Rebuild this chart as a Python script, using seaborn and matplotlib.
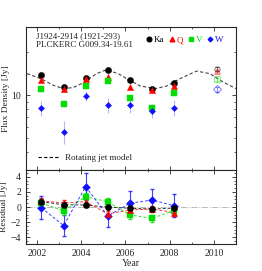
import numpy as np
import pandas as pd
import matplotlib
matplotlib.use("Agg")
import matplotlib.pyplot as plt
import matplotlib.ticker as mticker
import seaborn as sns

# WMAP epochs and Planck epoch
years = [2002.2, 2003.2, 2004.2, 2005.2, 2006.2, 2007.2, 2008.2]
planck_year = 2010.15

bands = ["Ka", "Q", "V", "W"]
colors = {"Ka": "black", "Q": "red", "V": "#00dd00", "W": "#1010ff"}
markers = {"Ka": "o", "Q": "^", "V": "s", "W": "D"}
sizes = {"Ka": 20, "Q": 20, "V": 15, "W": 10}

flux = {
    "Ka": [13.8, 11.4, 13.2, 14.9, 12.7, 11.1, 12.25],
    "Q": [12.7, 11.1, 12.9, 13.4, 11.4, 10.8, 11.6],
    "V": [11.0, 8.75, 11.6, 12.6, 9.6, 8.1, 10.3],
    "W": [8.1, 5.56, 9.84, 8.5, 8.5, 7.8, 8.2],
}
flux_err = {
    "Ka": [0.3, 0.3, 0.3, 0.3, 0.3, 0.3, 0.3],
    "Q": [0.4, 0.4, 0.4, 0.4, 0.4, 0.4, 0.4],
    "V": [0.5, 0.5, 0.5, 0.5, 0.5, 0.5, 0.5],
    "W": [1.0, 1.0, 0.8, 1.0, 1.0, 0.9, 1.0],
}
planck_flux = {"Ka": 15.3, "Q": 14.7, "V": 12.9, "W": 11.0}
planck_err = {"Ka": 0.5, "Q": 0.4, "V": 0.3, "W": 0.4}

resid = {
    "Ka": [0.7, 0.3, 0.26, 0.0, -0.17, -0.26, -0.15],
    "Q": [0.8, 0.55, 0.7, -0.9, -0.4, -0.26, -0.74],
    "V": [0.55, -0.5, 1.37, 0.7, -1.05, -1.5, -0.48],
    "W": [-0.1, -2.45, 2.7, -1.2, 0.5, 0.92, 0.18],
}
resid_err = {
    "Ka": [0.3] * 7,
    "Q": [0.4] * 7,
    "V": [0.5] * 7,
    "W": [1.5, 1.4, 1.75, 1.5, 1.6, 1.5, 1.5],
}

# rotating jet model curve
model_year = [2001.54, 2002.18, 2002.74, 2003.19, 2003.64, 2004.16, 2004.69, 2005.14,
              2005.67, 2006.19, 2006.67, 2007.35, 2007.87, 2008.47, 2009.22, 2009.82,
              2010.42, 2010.99]
model_flux = [14.15, 13.06, 11.73, 11.13, 11.31, 12.37, 14.15, 15.07, 14.15, 12.71,
              11.6, 11.13, 11.6, 13.06, 14.75, 14.15, 12.37, 11.13]

sns.set_style("ticks")
plt.rcParams["font.family"] = ["Liberation Serif", "DejaVu Serif"]
plt.rcParams["xtick.direction"] = "in"
plt.rcParams["ytick.direction"] = "in"
plt.rcParams["xtick.top"] = True
plt.rcParams["ytick.right"] = True
plt.rcParams["font.size"] = 7

fig = plt.figure(figsize=(2.62, 2.71), dpi=100)
ax = fig.add_axes([0.0992, 0.3727, 0.8015, 0.5277])
axr = fig.add_axes([0.0992, 0.0996, 0.8015, 0.273], sharex=ax)

model = pd.DataFrame({"year": model_year, "flux": model_flux})
sns.lineplot(data=model, x="year", y="flux", ax=ax, color="#444444", lw=0.8,
             linestyle=(0, (3, 2)), legend=False)

band_handles = []
for b in bands:
    c = colors[b]
    ax.errorbar(years, flux[b], yerr=flux_err[b], fmt="none", ecolor=c, alpha=0.3,
                elinewidth=0.8, capsize=0)
    sns.scatterplot(x=years, y=flux[b], ax=ax, color=c, marker=markers[b],
                    s=sizes[b], edgecolor=c, linewidth=0.3, zorder=3)
    ax.errorbar([planck_year], [planck_flux[b]], yerr=[planck_err[b]], fmt=markers[b],
                mfc="none", mec=c, ecolor=c, alpha=0.45, ms=3.8, mew=0.8,
                elinewidth=0.8, capsize=1.5)
    band_handles.append(plt.Line2D([], [], ls="none", marker=markers[b], color=c,
                                   ms=np.sqrt(sizes[b]) * 0.75))

ax.set_yscale("log")
ax.set_ylim(3, 30)
ax.set_xlim(2001.5, 2011)
ax.yaxis.set_major_locator(mticker.FixedLocator([10]))
ax.yaxis.set_major_formatter(mticker.FixedFormatter(["10"]))
ax.yaxis.set_minor_locator(mticker.LogLocator(base=10, subs=np.arange(2, 10)))
ax.yaxis.set_minor_formatter(mticker.NullFormatter())
ax.set_ylabel("Flux Density [Jy]", labelpad=1, fontsize=6.8)
ax.set_xlabel("")
plt.setp(ax.get_xticklabels(), visible=False)
ax.tick_params(which="both", labelsize=7)

ax.text(0.05, 0.965, "J1924-2914 (1921-293)\nPLCKERC G009.34-19.61",
        transform=ax.transAxes, fontsize=6.5, va="top", linespacing=1.1)

leg1 = ax.legend(handles=band_handles, labels=bands, loc="upper right", ncol=4,
                 frameon=False, handletextpad=0.05, columnspacing=0.35, handlelength=1.0,
                 fontsize=6.5, labelcolor=[colors[b] for b in bands],
                 bbox_to_anchor=(0.97, 0.98), borderpad=0.2)
ax.add_artist(leg1)
ax.legend(handles=[plt.Line2D([], [], color="black", lw=0.8, ls=(0, (3, 2)))],
          labels=["Rotating jet model"], loc="lower left", frameon=False,
          fontsize=6.5, handlelength=2.2, bbox_to_anchor=(0.02, 0.0))

# residual panel
axr.axhline(0, color="#bbbbbb", lw=0.7, ls="-.", zorder=0)
for b in bands:
    c = colors[b]
    df = pd.DataFrame({"year": years, "res": resid[b]})
    sns.lineplot(data=df, x="year", y="res", ax=axr, color=c, lw=0.7,
                 linestyle=(0, (3, 2)), alpha=0.8, legend=False)
for b in ["W", "V", "Q", "Ka"]:
    c = colors[b]
    axr.errorbar(years, resid[b], yerr=resid_err[b], fmt="none", ecolor=c,
                 elinewidth=0.8, capsize=1.2, alpha=0.8)
    sns.scatterplot(x=years, y=resid[b], ax=axr, color=c, marker=markers[b],
                    s=sizes[b] if b != "W" else 16, edgecolor=c, linewidth=0.3,
                    zorder=3)

axr.set_ylim(-4.9, 4.9)
axr.set_yticks([-4, -2, 0, 2, 4])
axr.set_xticks([2002, 2004, 2006, 2008, 2010])
axr.set_xticks(np.arange(2002, 2012, 1), minor=True)
axr.yaxis.set_minor_locator(mticker.MultipleLocator(0.5))
axr.set_xlabel("Year", labelpad=1)
axr.set_ylabel("Residual [Jy]", labelpad=2, fontsize=6.8)
axr.tick_params(which="both", labelsize=7)
for a in (ax, axr):
    a.tick_params(which="major", length=3, width=0.6)
    a.tick_params(which="minor", length=1.5, width=0.5)
    for s in a.spines.values():
        s.set_linewidth(0.8)

fig.savefig("out.png", dpi=100)
